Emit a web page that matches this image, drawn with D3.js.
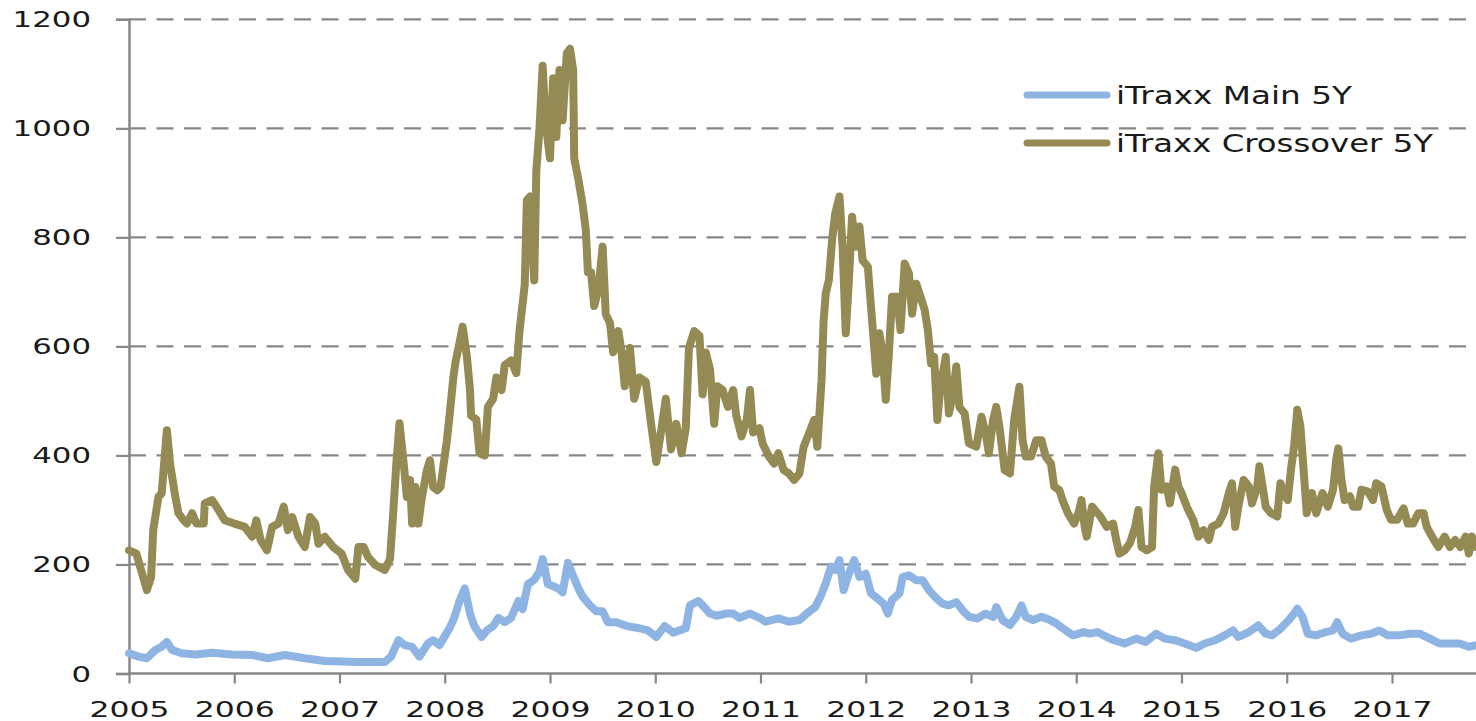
<!DOCTYPE html>
<html>
<head>
<meta charset="utf-8">
<script src="https://cdn.jsdelivr.net/npm/d3@7"></script>
<style>
  html, body { margin: 0; padding: 0; background: #fff; }
  svg { display: block; }
  text { font-family: "DejaVu Sans", Verdana, sans-serif; fill: #1a1a1a; }
</style>
</head>
<body>
<svg id="chart" width="1476" height="721"></svg>
<script>
// ---- data (decimal years, basis points) ----
const seriesNames = ["iTraxx Main 5Y", "iTraxx Crossover 5Y"];
const yTicks = [0, 200, 400, 600, 800, 1000, 1200];
const xTicks = [2005, 2006, 2007, 2008, 2009, 2010, 2011, 2012, 2013, 2014, 2015, 2016, 2017];

const mainDates = [2005.00,2005.09,2005.17,2005.25,2005.31,2005.36,2005.41,2005.50,2005.63,2005.79,2005.98,2006.17,2006.32,2006.48,2006.67,2006.86,2007.18,2007.43,2007.49,2007.56,2007.62,2007.69,2007.76,2007.84,2007.89,2007.95,2008.02,2008.05,2008.09,2008.14,2008.19,2008.24,2008.28,2008.35,2008.40,2008.46,2008.51,2008.57,2008.63,2008.70,2008.74,2008.79,2008.85,2008.90,2008.93,2008.98,2009.03,2009.08,2009.12,2009.17,2009.22,2009.27,2009.31,2009.38,2009.44,2009.50,2009.55,2009.63,2009.73,2009.85,2009.93,2010.01,2010.09,2010.17,2010.29,2010.33,2010.41,2010.45,2010.52,2010.58,2010.68,2010.74,2010.80,2010.90,2010.99,2011.05,2011.17,2011.27,2011.37,2011.44,2011.52,2011.57,2011.62,2011.67,2011.71,2011.75,2011.79,2011.84,2011.89,2011.94,2012.00,2012.05,2012.11,2012.17,2012.21,2012.25,2012.32,2012.35,2012.41,2012.48,2012.54,2012.60,2012.67,2012.73,2012.79,2012.86,2012.92,2012.98,2013.06,2013.14,2013.21,2013.24,2013.30,2013.37,2013.43,2013.48,2013.52,2013.59,2013.67,2013.75,2013.81,2013.87,2013.97,2014.07,2014.13,2014.20,2014.29,2014.36,2014.46,2014.57,2014.66,2014.76,2014.84,2014.94,2015.03,2015.14,2015.22,2015.32,2015.41,2015.49,2015.54,2015.64,2015.73,2015.80,2015.86,2015.94,2016.02,2016.07,2016.10,2016.15,2016.20,2016.28,2016.37,2016.44,2016.48,2016.53,2016.61,2016.71,2016.80,2016.88,2016.96,2017.07,2017.17,2017.26,2017.36,2017.45,2017.55,2017.64,2017.73,2017.80];
const mainValues = [37,31,28,43,49,58,43,37,35,38,35,34,28,34,28,23,21,21,31,61,52,49,31,55,61,52,75,85,102,133,156,110,87,67,79,87,102,94,102,133,118,164,172,187,210,164,160,156,149,203,179,156,141,125,114,114,94,94,87,83,79,67,87,75,83,125,133,125,110,106,110,110,102,110,102,95,101,95,98,110,122,141,165,196,190,208,153,183,208,177,183,147,138,128,110,135,147,177,180,171,171,153,138,128,125,131,116,104,101,110,104,122,98,89,104,125,104,98,104,98,92,83,70,76,73,76,67,61,55,64,58,73,64,61,55,47,55,61,70,79,67,76,88,73,70,82,98,110,119,104,73,70,76,79,94,73,64,70,73,79,70,70,73,73,64,55,55,55,49,52];

const xoverDates = [2005.00,2005.07,2005.17,2005.21,2005.23,2005.28,2005.31,2005.36,2005.39,2005.44,2005.47,2005.52,2005.55,2005.60,2005.64,2005.71,2005.72,2005.79,2005.85,2005.91,2006.00,2006.10,2006.17,2006.21,2006.25,2006.31,2006.36,2006.42,2006.47,2006.51,2006.55,2006.61,2006.67,2006.72,2006.77,2006.80,2006.86,2006.94,2007.02,2007.08,2007.15,2007.18,2007.23,2007.27,2007.34,2007.43,2007.48,2007.51,2007.54,2007.57,2007.61,2007.64,2007.67,2007.69,2007.72,2007.75,2007.78,2007.83,2007.86,2007.89,2007.93,2007.96,2008.02,2008.05,2008.08,2008.10,2008.13,2008.17,2008.21,2008.24,2008.25,2008.30,2008.33,2008.38,2008.41,2008.46,2008.49,2008.54,2008.57,2008.63,2008.68,2008.71,2008.76,2008.78,2008.81,2008.85,2008.87,2008.90,2008.93,2008.96,2009.00,2009.03,2009.06,2009.09,2009.12,2009.16,2009.19,2009.22,2009.23,2009.27,2009.31,2009.34,2009.36,2009.39,2009.42,2009.46,2009.50,2009.53,2009.57,2009.60,2009.65,2009.68,2009.71,2009.76,2009.80,2009.85,2009.91,2009.96,2010.01,2010.06,2010.10,2010.15,2010.20,2010.25,2010.29,2010.32,2010.37,2010.42,2010.45,2010.48,2010.52,2010.56,2010.59,2010.64,2010.69,2010.74,2010.77,2010.82,2010.87,2010.90,2010.93,2010.99,2011.02,2011.08,2011.13,2011.17,2011.22,2011.27,2011.32,2011.37,2011.41,2011.46,2011.51,2011.54,2011.58,2011.60,2011.62,2011.65,2011.68,2011.71,2011.75,2011.78,2011.81,2011.84,2011.87,2011.90,2011.94,2011.97,2012.02,2012.06,2012.10,2012.13,2012.16,2012.19,2012.22,2012.25,2012.30,2012.33,2012.37,2012.41,2012.44,2012.48,2012.52,2012.56,2012.59,2012.62,2012.65,2012.68,2012.71,2012.76,2012.79,2012.83,2012.86,2012.89,2012.94,2012.98,2013.05,2013.10,2013.14,2013.17,2013.21,2013.24,2013.27,2013.32,2013.37,2013.41,2013.46,2013.49,2013.52,2013.57,2013.62,2013.67,2013.71,2013.76,2013.79,2013.84,2013.87,2013.92,2013.98,2014.02,2014.05,2014.08,2014.10,2014.15,2014.23,2014.29,2014.35,2014.38,2014.41,2014.46,2014.51,2014.56,2014.59,2014.62,2014.67,2014.72,2014.74,2014.78,2014.81,2014.86,2014.89,2014.94,2014.97,2015.00,2015.05,2015.11,2015.16,2015.21,2015.26,2015.29,2015.35,2015.40,2015.45,2015.48,2015.51,2015.54,2015.59,2015.64,2015.67,2015.72,2015.74,2015.76,2015.80,2015.85,2015.91,2015.94,2015.97,2016.01,2016.04,2016.07,2016.10,2016.13,2016.16,2016.19,2016.24,2016.28,2016.34,2016.39,2016.44,2016.47,2016.49,2016.52,2016.55,2016.60,2016.63,2016.68,2016.71,2016.77,2016.82,2016.85,2016.90,2016.95,2016.99,2017.05,2017.11,2017.15,2017.20,2017.25,2017.30,2017.33,2017.38,2017.44,2017.50,2017.55,2017.60,2017.65,2017.70,2017.73,2017.76,2017.80];
const xoverValues = [226,220,153,177,263,324,330,446,385,324,294,281,275,294,275,275,312,318,300,281,275,269,251,281,245,226,269,275,306,263,287,251,232,287,275,238,251,232,220,190,174,232,232,214,199,190,210,294,385,459,385,324,355,275,342,275,320,373,391,342,336,342,427,481,540,569,597,636,582,520,473,466,404,400,489,504,543,520,566,574,551,628,713,868,875,721,922,999,1115,1007,945,1092,984,1107,1015,1138,1146,1107,945,906,860,814,736,736,674,705,783,659,643,589,628,589,527,597,504,543,535,458,388,450,504,411,458,404,450,597,628,620,512,589,558,458,527,520,489,520,473,435,466,520,442,450,422,398,385,404,373,367,355,367,416,440,465,416,538,648,697,722,795,844,875,783,624,722,838,783,820,758,746,648,550,624,587,502,587,691,691,630,752,734,660,715,691,667,630,569,581,465,526,581,477,514,563,489,477,422,416,471,440,404,465,489,453,373,367,465,526,428,398,398,428,428,398,385,343,336,318,294,275,294,318,269,251,306,288,269,275,245,220,226,239,269,300,232,226,232,343,404,337,343,312,374,343,331,306,282,251,263,245,269,275,294,331,349,269,306,355,343,312,343,380,355,306,294,288,349,331,318,374,417,484,453,374,294,331,294,331,306,337,392,413,355,318,325,306,306,337,334,318,349,343,300,282,282,303,275,275,294,294,269,251,232,251,232,245,232,251,220,251,232];

const colors = ["#8DB4E2", "#948A54"];

// ---- layout ----
const svg = d3.select("#chart");
const x = d3.scaleLinear().domain([2005, 2018]).range([129, 129 + 13 * 105.25]);
const y = d3.scaleLinear().domain([0, 1200]).range([673.5, 19.3]);
const right = 1476;

// gridlines
svg.append("g").selectAll("line")
  .data(yTicks.filter(d => d > 0))
  .join("line")
  .attr("x1", 129).attr("x2", right)
  .attr("y1", d => y(d)).attr("y2", d => y(d))
  .attr("stroke", "#878787").attr("stroke-width", 2.2)
  .attr("stroke-dasharray", "17,10.5");

// y axis
const yAxis = svg.append("g").attr("transform", "translate(129,0)")
  .call(d3.axisLeft(y).tickValues(yTicks).tickSize(13).tickPadding(38).tickFormat(d3.format("d")));
yAxis.select(".domain").attr("stroke", "#878787").attr("stroke-width", 2.5);
yAxis.selectAll(".tick line").attr("stroke", "#878787").attr("stroke-width", 2.2);
yAxis.selectAll(".tick text")
  .attr("x", 91 - 129).attr("dy", null).attr("y", 7.5)
  .attr("text-anchor", "end")
  .style("font-size", "21px")
  .attr("textLength", d => String(d).length * 19.6)
  .attr("lengthAdjust", "spacingAndGlyphs");

// x axis
const xAxis = svg.append("g").attr("transform", `translate(0,${y(0)})`)
  .call(d3.axisBottom(x).tickValues(xTicks).tickSize(10).tickFormat(d3.format("d")));
xAxis.select(".domain").attr("stroke", "#878787").attr("stroke-width", 2.5)
  .attr("d", `M129,0H${right}`);
xAxis.selectAll(".tick line").attr("stroke", "#878787").attr("stroke-width", 2.2);
xAxis.selectAll(".tick text")
  .attr("y", 43.5).attr("dy", null)
  .attr("text-anchor", "middle")
  .style("font-size", "22px")
  .attr("textLength", 80)
  .attr("lengthAdjust", "spacingAndGlyphs");
svg.selectAll(".domain").attr("fill", "none");

// lines
const line = d3.line().x(d => x(d[0])).y(d => y(d[1]));
const mainData = mainDates.map((d, i) => [d, mainValues[i]]);
const xoverData = xoverDates.map((d, i) => [d, xoverValues[i]]);

[mainData, xoverData].forEach((data, i) => {
  svg.append("path")
    .datum(data)
    .attr("d", line)
    .attr("fill", "none")
    .attr("stroke", colors[i])
    .attr("stroke-width", 8)
    .attr("stroke-linejoin", "round")
    .attr("stroke-linecap", "round");
});

// legend
const legendY = [95, 143];
const legendLen = [236, 317];
const lg = svg.append("g");
seriesNames.forEach((name, i) => {
  lg.append("line")
    .attr("x1", 1027).attr("x2", 1107)
    .attr("y1", legendY[i]).attr("y2", legendY[i])
    .attr("stroke", colors[i]).attr("stroke-width", 7)
    .attr("stroke-linecap", "round");
  lg.append("text")
    .attr("x", 1116).attr("y", legendY[i] + 8.5)
    .style("font-size", "24.5px")
    .attr("textLength", legendLen[i])
    .attr("lengthAdjust", "spacingAndGlyphs")
    .text(name);
});
</script>
</body>
</html>
